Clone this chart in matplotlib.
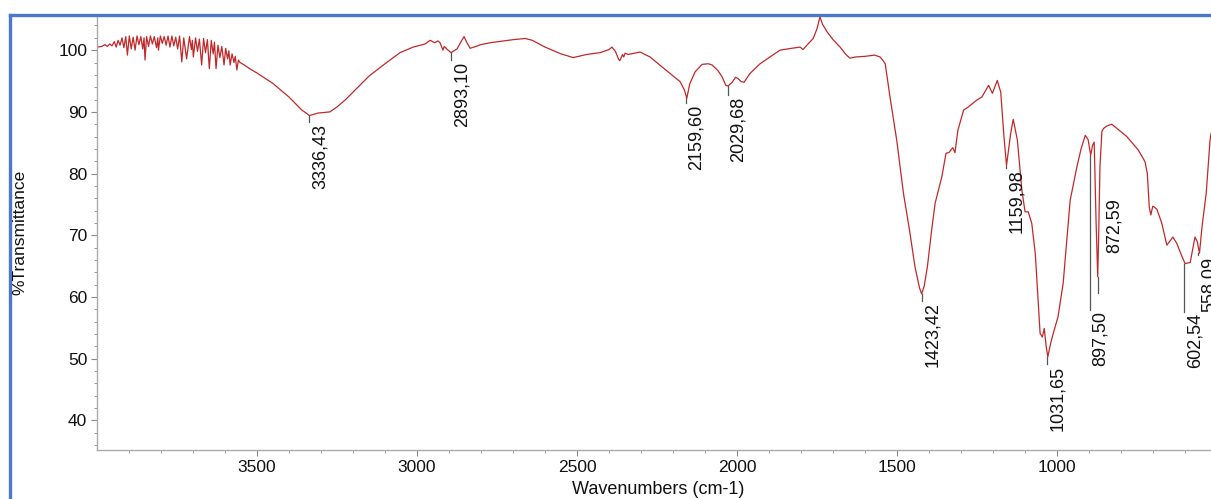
import matplotlib
matplotlib.use("Agg")
import matplotlib.pyplot as plt
from matplotlib.lines import Line2D

plt.rcParams['font.family'] = ['Liberation Sans', 'DejaVu Sans']

# spectrum (wavenumber cm-1, %T)
wavenumber = [
    4000, 3985, 3975, 3968, 3960, 3953, 3946, 3940, 3934, 3928, 3922, 3916,
    3910, 3905, 3899, 3893, 3887, 3881, 3875, 3869, 3863, 3857, 3853, 3850,
    3845, 3839, 3833, 3827, 3821, 3814, 3810, 3808, 3802, 3796, 3790, 3784,
    3778, 3772, 3766, 3760, 3754, 3748, 3742, 3735, 3729, 3720, 3711, 3705,
    3702, 3699, 3692, 3686, 3680, 3673, 3667, 3661, 3655, 3649, 3643, 3637,
    3633, 3628, 3622, 3616, 3610, 3603, 3598, 3592, 3588, 3584, 3578, 3572,
    3568, 3563, 3558, 3553, 3540, 3520, 3500, 3450, 3400, 3360, 3336, 3310,
    3272, 3250, 3225, 3150, 3100, 3053, 3012, 2975, 2959, 2945, 2935, 2928,
    2919, 2915, 2905, 2894, 2875, 2860, 2853, 2845, 2834, 2800, 2772, 2700,
    2662, 2640, 2600, 2550, 2512, 2470, 2428, 2400, 2391, 2380, 2370, 2366,
    2358, 2354, 2350, 2340, 2303, 2272, 2230, 2178, 2165, 2157, 2148, 2131,
    2109, 2090, 2078, 2060, 2047, 2035, 2028, 2015, 2005, 1997, 1987, 1978,
    1960, 1928, 1900, 1866, 1830, 1803, 1794, 1780, 1762, 1750, 1741, 1733,
    1719, 1700, 1678, 1660, 1647, 1630, 1600, 1570, 1553, 1545, 1537, 1522,
    1501, 1480, 1461, 1444, 1430, 1423, 1415, 1405, 1392, 1381, 1360, 1347,
    1338, 1326, 1319, 1310, 1292, 1280, 1251, 1235, 1214, 1202, 1187, 1176,
    1166, 1158, 1145, 1137, 1124, 1110, 1100, 1090, 1079, 1068, 1060, 1053,
    1046, 1040, 1034, 1029, 1020, 1012, 997, 981, 959, 938, 925, 912, 903,
    895, 889, 884, 878, 873, 870, 866, 860, 855, 845, 829, 782, 746, 725,
    718, 712, 707, 701, 697, 688, 673, 657, 638, 626, 610, 600, 584, 569,
    562, 555, 547, 534, 522, 519,
]
transmittance = [
    100.5, 100.6, 100.9, 100.6, 101.0, 100.7, 101.4, 100.5, 101.6, 100.8, 102.0, 100.4,
    102.2, 99.2, 102.3, 100.2, 102.1, 100.0, 102.3, 100.9, 102.2, 100.2, 102.0, 98.4,
    102.2, 100.6, 102.3, 101.0, 102.2, 100.4, 102.0, 100.0, 102.3, 101.1, 102.2, 100.8,
    102.3, 100.5, 102.3, 100.7, 102.1, 100.2, 102.3, 98.1, 102.0, 98.6, 102.2, 100.1,
    101.6, 98.9, 102.0, 99.8, 101.8, 97.6, 101.9, 99.6, 101.7, 97.0, 101.6, 99.4,
    101.3, 97.0, 100.8, 98.8, 100.6, 97.6, 100.3, 98.6, 99.9, 97.6, 99.4, 98.0,
    99.0, 96.8, 98.4, 98.0, 97.6, 96.9, 96.3, 94.6, 92.4, 90.3, 89.4, 89.8,
    90.0, 90.8, 91.9, 95.8, 97.8, 99.6, 100.5, 101.0, 101.6, 101.2, 101.5, 101.2,
    100.0, 100.6, 100.1, 99.6, 100.2, 101.6, 102.2, 101.3, 100.3, 100.9, 101.2, 101.7,
    101.9, 101.6, 100.5, 99.4, 98.8, 99.3, 99.6, 100.1, 100.5, 99.8, 98.5, 98.3,
    99.3, 98.9, 99.5, 99.3, 99.7, 98.9, 97.1, 94.9, 93.6, 92.2, 94.5, 96.5,
    97.7, 97.8, 97.6, 96.7, 95.7, 94.3, 94.2, 94.8, 95.6, 95.4, 94.9, 94.8,
    96.2, 97.8, 98.8, 100.0, 100.3, 100.5, 100.1, 100.9, 101.9, 103.5, 105.4, 104.2,
    103.0, 101.7, 100.5, 99.3, 98.7, 98.9, 99.0, 99.2, 98.9, 98.4, 97.8, 92.4,
    85.4, 76.8, 70.8, 64.9, 61.5, 60.5, 61.8, 65.0, 70.8, 75.2, 79.5, 83.3,
    83.4, 84.2, 83.4, 87.0, 90.3, 90.7, 91.9, 92.4, 94.3, 93.0, 95.1, 93.2,
    86.0, 81.3, 86.5, 88.8, 85.4, 77.3, 73.8, 73.8, 71.9, 67.0, 60.0, 54.1,
    53.5, 54.9, 52.0, 50.3, 52.5, 54.1, 56.8, 62.2, 75.7, 81.1, 84.0, 86.2, 85.5,
    83.0, 84.6, 85.1, 72.0, 63.3, 70.0, 81.1, 86.8, 87.3, 87.7, 88.0, 86.0, 83.8, 81.9,
    80.0, 74.6, 73.3, 74.7, 74.6, 74.2, 72.0, 68.4, 69.7, 68.7, 66.6, 65.4, 65.6, 69.7,
    69.0, 67.1, 71.4, 76.8, 85.4, 86.5,
]

# labelled peaks
peak_wn = [3336.43, 2893.10, 2159.60, 2029.68, 1423.42, 1159.98,
           1031.65, 897.50, 872.59, 602.54, 558.09]
peak_t = [89.4, 99.6, 92.2, 94.2, 60.5, 81.3, 50.3, 83.0, 63.3, 65.4, 67.1]
peak_labels = ['3336,43', '2893,10', '2159,60', '2029,68', '1423,42', '1159,98',
               '1031,65', '897,50', '872,59', '602,54', '558,09']
# where each marker line ends (in %T)
marker_end = [88.3, 98.4, 91.4, 92.7, 59.4, 80.9, 49.1, 57.9, 60.6, 57.6, 66.8]

W, H = 1211, 499
fig = plt.figure(figsize=(W / 100, H / 100), dpi=100, facecolor='white')
ax = fig.add_axes([97 / W, 49 / H, 1 - 97 / W, 435 / H])

ax.plot(wavenumber, transmittance, color='#c0282a', lw=0.9)

for wn, t, end, lab in zip(peak_wn, peak_t, marker_end, peak_labels):
    ax.plot([wn, wn], [t, end], color='#555555', lw=0.9)
    if lab == '872,59':
        ax.annotate(lab, xy=(wn, 76.0), xytext=(6, 0), textcoords='offset points',
                    rotation=90, ha='left', va='top', fontsize=13, color='#111111')
    else:
        ax.annotate(lab, xy=(wn, end), xytext=(1.5, -1), textcoords='offset points',
                    rotation=90, ha='left', va='top', fontsize=13, color='#111111')

ax.set_xlim(4000, 519)
ax.set_ylim(35.2, 105.7)
ax.set_xticks([3500, 3000, 2500, 2000, 1500, 1000])
ax.set_xticks(range(3900, 500, -100), minor=True)
ax.set_yticks([40, 50, 60, 70, 80, 90, 100])
ax.set_yticks(range(36, 106, 2), minor=True)

for s in ['top', 'right']:
    ax.spines[s].set_visible(False)
for s in ['left', 'bottom']:
    ax.spines[s].set_color('#aaaaaa')
    ax.spines[s].set_linewidth(1.0)
ax.tick_params(which='major', length=4, color='#888888', labelsize=12.5,
               labelcolor='#111111', pad=3)
ax.tick_params(which='minor', length=2, color='#888888')
ax.set_facecolor('white')

fig.text(20 / W, 1 - 232 / H, '%Transmittance', rotation=90, ha='center', va='center',
         fontsize=12.5, color='#111111')
fig.text(658 / W, 1 - 489 / H, 'Wavenumbers (cm-1)', ha='center', va='center',
         fontsize=13, color='#111111')

# blue frame of the screenshot
fig.add_artist(Line2D([10 / W, 1.0], [1 - 15 / H, 1 - 15 / H], color='#4a78cc', lw=2.4))
fig.add_artist(Line2D([10 / W, 10 / W], [0, 1 - 15 / H], color='#4a78cc', lw=2.4))

fig.savefig('out.png', dpi=100)
